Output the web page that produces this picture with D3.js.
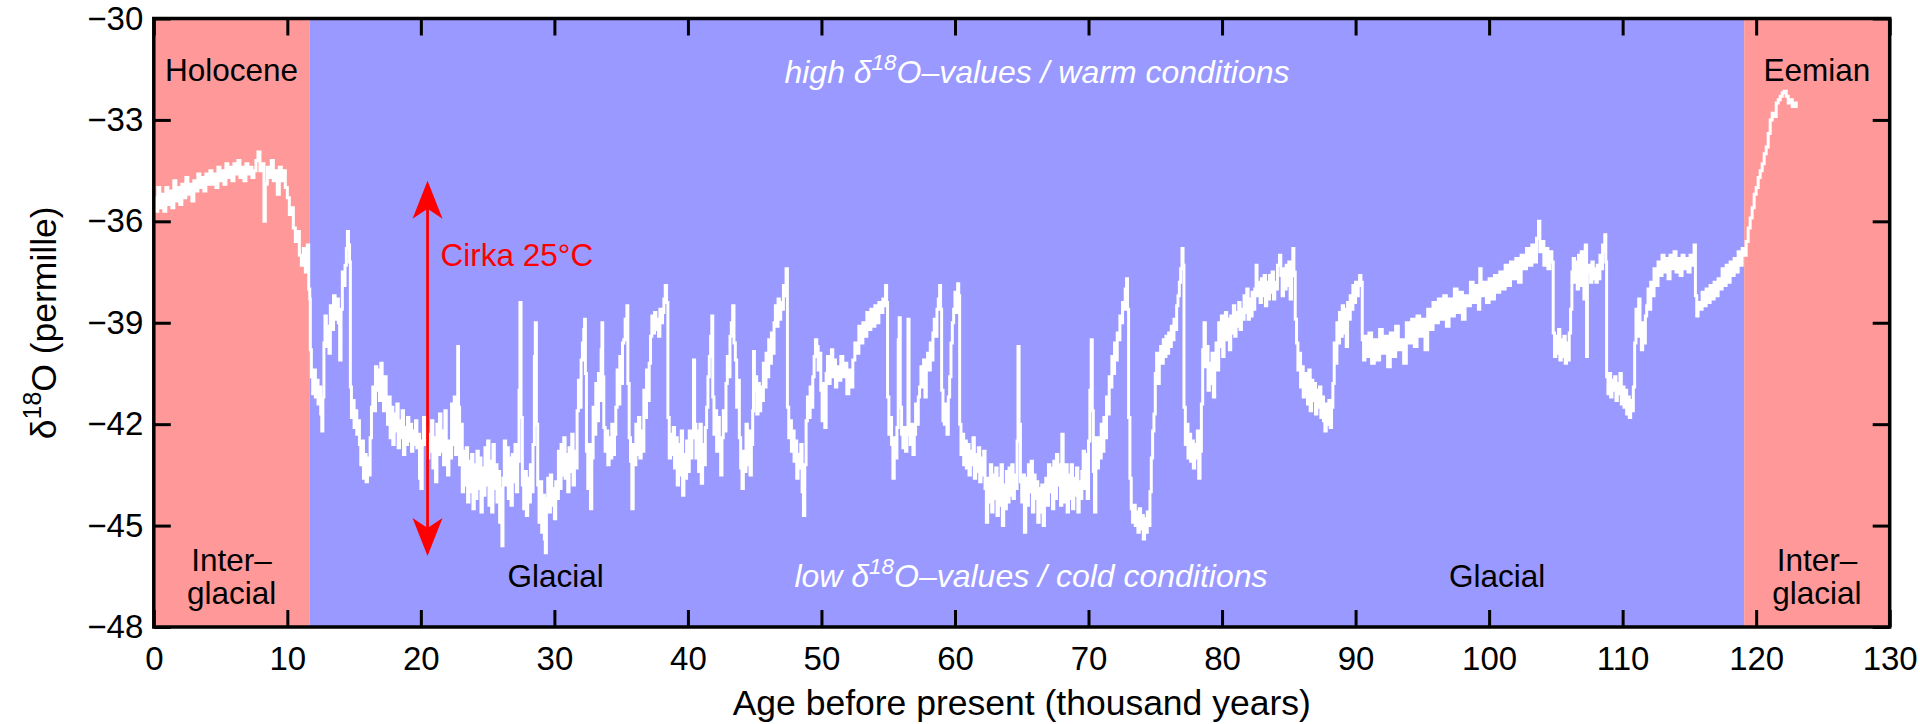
<!DOCTYPE html>
<html><head><meta charset="utf-8">
<script src="https://cdn.jsdelivr.net/npm/d3@7"></script>
<style>
html,body{margin:0;padding:0;background:#fff;}
svg{display:block;}
text{font-family:"Liberation Sans",Arial,Helvetica,sans-serif;}
</style></head><body>
<svg id="chart" width="1920" height="724"></svg>
<script>
// ---------- data ----------
const xTicks = [0,10,20,30,40,50,60,70,80,90,100,110,120,130];
const yTicks = [-30,-33,-36,-39,-42,-45,-48];
const periods = [["interglacial",0,11.65],["glacial",11.65,119.1],["interglacial",119.1,130]];
const periodLabelsTop = [["Holocene",5.825],["Eemian",124.55]];
const periodLabelsBottom = [["Inter–","glacial",5.825],["Inter–","glacial",124.55]];
const glacialLabels = [["Glacial",30.1],["Glacial",100.6]];
const arrowSpan = [20.5,-34.8,-45.9];
const arrowLabel = "Cirka 25°C";

const holocene = [[0.0,-35.3],[0.15,-35.7],[0.3,-35.0],[0.45,-35.6],[0.6,-35.2],[0.75,-35.7],[0.9,-35.0],[1.05,-35.5],[1.2,-35.1],[1.35,-35.6],[1.5,-34.8],[1.65,-35.4],[1.8,-35.0],[1.95,-35.5],[2.1,-34.9],[2.25,-35.3],[2.4,-34.7],[2.55,-35.2],[2.7,-34.9],[2.85,-35.4],[3.0,-34.8],[3.15,-35.1],[3.3,-34.6],[3.45,-35.0],[3.6,-34.7],[3.75,-35.1],[3.9,-34.6],[4.05,-34.9],[4.2,-34.5],[4.35,-34.9],[4.5,-34.6],[4.65,-35.0],[4.8,-34.4],[4.95,-34.8],[5.1,-34.5],[5.25,-34.9],[5.4,-34.3],[5.55,-34.7],[5.7,-34.4],[5.85,-34.8],[6.0,-34.3],[6.15,-34.6],[6.3,-34.2],[6.45,-34.7],[6.6,-34.4],[6.75,-34.8],[6.9,-34.3],[7.05,-34.6],[7.2,-34.4],[7.35,-34.7],[7.5,-34.5],[7.65,-34.2],[7.8,-33.95],[7.95,-34.5],[8.1,-34.3],[8.25,-36.0],[8.35,-34.9],[8.5,-34.4],[8.65,-34.7],[8.8,-34.2],[8.95,-34.8],[9.1,-34.5],[9.25,-35.2],[9.4,-34.4],[9.55,-34.8],[9.7,-34.5],[9.85,-35.0],[10.0,-35.3],[10.15,-35.8],[10.3,-35.6],[10.45,-36.2],[10.6,-36.6],[10.75,-36.3],[10.9,-37.0],[11.05,-37.3],[11.2,-36.8],[11.35,-37.5],[11.5,-36.7],[11.6,-38.0],[11.68,-38.3]];

const deglaciation = [[11.72,-39.8],[11.8,-40.6],[11.9,-41.1],[12.0,-40.4],[12.1,-41.2],[12.2,-40.7],[12.3,-41.4],[12.4,-40.9],[12.5,-41.7],[12.58,-42.2],[12.66,-41.2],[12.74,-39.6],[12.82,-38.8],[12.92,-39.7],[13.02,-39.1],[13.12,-39.9],[13.22,-38.5],[13.34,-39.2],[13.46,-38.2],[13.58,-38.9],[13.7,-38.3],[13.82,-39.0],[13.92,-40.1],[14.02,-38.6],[14.12,-37.5],[14.22,-37.9],[14.32,-37.3],[14.42,-36.8],[14.5,-36.3],[14.58,-36.7],[14.66,-37.2],
[14.72,-40.9],[14.8,-41.8],[14.9,-41.3],[15.0,-42.1],[15.1,-41.6],[15.2,-42.3],[15.3,-41.9],[15.4,-42.6],[15.5,-43.2],[15.6,-42.5],[15.7,-43.6],[15.8,-42.9],[15.9,-43.7],[16.0,-43.0],[16.1,-43.5],[16.2,-42.4],[16.3,-41.5],[16.4,-40.9],[16.5,-41.6],[16.6,-40.3],[16.7,-41.0],[16.8,-40.4],[16.9,-41.3],[17.0,-40.2],[17.1,-40.9],[17.2,-41.6],[17.3,-40.6],[17.4,-41.4],[17.5,-42.0],[17.6,-41.2],[17.7,-42.4],[17.8,-41.5],[17.9,-42.6],[18.0,-41.7],[18.1,-42.2],[18.2,-41.4],[18.3,-42.7],[18.4,-41.9],[18.5,-42.4],[18.6,-41.6],[18.7,-42.9],[18.8,-42.1],[18.9,-42.6],[19.0,-41.8],[19.1,-42.5],[19.2,-42.0],[19.3,-42.8],[19.4,-42.2],[19.5,-42.6],[19.6,-41.9],[19.7,-42.7],[19.8,-42.3],[19.9,-43.6],[20.0,-43.9],[20.1,-42.5],[20.2,-41.8],[20.3,-42.6],[20.4,-42.1],[20.5,-43.0],[20.6,-42.3]];

const mis2 = [[20.7,-42.8],[20.8,-41.9],[20.9,-43.3],[21.0,-42.4],[21.1,-43.7],[21.2,-42.0],[21.3,-42.9],[21.4,-41.7],[21.5,-42.8],[21.6,-42.2],[21.7,-43.2],[21.8,-41.6],[21.9,-42.9],[22.0,-43.5],[22.1,-42.5],[22.2,-43.0],[22.3,-41.4],[22.4,-42.6],[22.5,-41.2],[22.6,-42.9],[22.7,-41.8],[22.76,-39.7],[22.82,-41.5],[22.9,-43.2],[23.0,-42.0],[23.1,-44.0],[23.2,-42.8],[23.3,-43.8],[23.4,-42.7],[23.5,-44.3],[23.6,-43.1],[23.7,-44.0],[23.8,-42.9],[23.9,-44.5],[24.0,-43.2],[24.1,-44.2],[24.2,-42.8],[24.3,-43.9],[24.4,-43.0],[24.5,-44.6],[24.6,-43.3],[24.7,-44.1],[24.8,-42.7],[24.9,-43.8],[25.0,-42.5],[25.1,-44.4],[25.2,-43.1],[25.3,-44.6],[25.4,-42.6],[25.5,-43.9],[25.6,-43.2],[25.7,-44.3],[25.8,-43.4],[25.9,-44.9],[26.0,-43.9],[26.07,-45.6],[26.15,-43.6],[26.25,-42.5],[26.35,-43.8],[26.45,-42.7],[26.55,-44.2],[26.65,-43.0],[26.75,-44.4],[26.85,-42.9],[26.95,-43.7],[27.05,-42.6],[27.15,-44.0],[27.25,-43.1],[27.35,-41.0],[27.42,-38.4],[27.5,-41.8],
[27.6,-43.8],[27.7,-44.5],[27.8,-43.4],[27.9,-44.7],[28.0,-43.6],[28.1,-44.3],[28.2,-43.2],[28.3,-44.0],[28.4,-42.6],[28.5,-40.0],[28.57,-39.0],[28.65,-42.0],[28.75,-43.8],[28.85,-44.9],[28.95,-43.7],[29.05,-45.2],[29.15,-44.1],[29.25,-45.4],[29.32,-45.8],[29.4,-44.2],[29.5,-43.6],[29.6,-44.6],[29.7,-43.5],[29.8,-44.4],[29.9,-43.9],[30.0,-44.8],[30.1,-43.7],[30.2,-44.2],[30.3,-42.8],[30.4,-43.9],[30.5,-42.6],[30.6,-43.5],[30.7,-42.4],[30.8,-43.6],[30.9,-42.9],[31.0,-44.0],[31.1,-42.7],[31.2,-43.4],[31.3,-42.3],[31.4,-43.8],[31.5,-42.8],[31.6,-43.3],[31.7,-41.6],[31.8,-40.7],[31.9,-41.5],[32.0,-40.1],[32.1,-39.6],[32.2,-39.2],[32.26,-38.9],[32.32,-40.5],
[32.4,-42.8],[32.5,-43.9],[32.6,-42.6],[32.7,-44.5],[32.8,-43.0],[32.9,-41.5],[33.0,-42.3],[33.1,-40.8],[33.2,-41.9],[33.3,-40.5],[33.4,-41.3],[33.5,-39.8],[33.56,-39.0],[33.62,-40.6],[33.7,-42.1],[33.8,-42.8],[33.9,-42.2],[34.0,-43.2],[34.1,-42.4],[34.2,-43.0],[34.3,-42.0],[34.4,-42.9],[34.5,-42.3],[34.6,-41.5],[34.7,-40.4],[34.8,-41.4],[34.9,-40.0],[35.0,-40.8],[35.1,-39.6],[35.2,-39.5],[35.3,-38.9],[35.43,-38.5],[35.5,-40.8],[35.6,-42.4],[35.7,-43.1],[35.8,-44.5],[35.9,-42.6],
[36.0,-43.2],[36.1,-42.0],[36.2,-42.9],[36.3,-41.8],[36.4,-43.0],[36.5,-42.2],[36.6,-42.8],[36.7,-41.0],[36.8,-41.8],[36.9,-40.4],[37.0,-41.3],[37.1,-40.2],[37.2,-39.4],[37.3,-38.8],[37.4,-39.3],[37.5,-38.7],[37.6,-39.2],[37.7,-38.9],[37.8,-39.4],[37.9,-38.6],[38.0,-39.0],[38.1,-38.7],[38.2,-38.3],[38.3,-37.9],[38.4,-38.4],
[38.5,-41.8],[38.6,-43.0],[38.7,-42.3],[38.8,-42.9],[38.9,-42.1],[39.0,-43.3],[39.1,-42.4],[39.2,-43.8],[39.3,-42.6],[39.4,-43.5],[39.5,-42.2],[39.6,-44.1],[39.7,-42.9],[39.8,-43.6],[39.9,-42.5],[40.0,-43.4],[40.1,-42.2],[40.2,-43.0],[40.3,-42.4],[40.42,-40.1],[40.5,-42.0],[40.6,-43.0],[40.7,-42.2],[40.8,-43.4],[40.9,-42.0],[41.0,-43.75],[41.1,-42.6],[41.2,-43.2],[41.3,-42.1],[41.4,-41.5],[41.5,-40.6],[41.6,-40.0],[41.7,-39.4],[41.79,-38.8],[41.86,-41.2],[41.95,-42.3],[42.05,-41.6],[42.15,-42.8],[42.25,-41.8],[42.35,-42.4]];

const mis3 = [[42.45,-43.5],[42.55,-42.4],[42.65,-41.6],[42.75,-42.2],[42.85,-40.8],[42.95,-40.0],[43.05,-40.6],[43.15,-39.4],[43.25,-39.0],[43.35,-38.5],[43.45,-39.6],[43.55,-40.1],[43.65,-41.5],[43.75,-40.7],[43.85,-42.4],[43.95,-43.3],[44.05,-43.9],[44.15,-42.8],[44.25,-43.4],[44.35,-42.0],[44.45,-43.2],[44.55,-42.2],[44.65,-43.5],[44.75,-42.6],[44.85,-41.6],[44.91,-39.85],[44.98,-41.0],[45.05,-40.6],[45.15,-41.7],[45.25,-40.8],[45.35,-41.6],[45.45,-40.9],[45.55,-41.3],[45.65,-40.2],[45.75,-40.9],[45.85,-39.9],[45.95,-40.6],[46.05,-39.5],[46.15,-40.2],[46.25,-39.3],[46.35,-39.9],[46.45,-39.0],[46.55,-38.5],[46.65,-39.1],[46.75,-38.3],[46.85,-38.9],[46.95,-38.4],[47.05,-38.6],[47.15,-37.9],[47.25,-38.2],[47.35,-37.4],
[47.45,-41.5],[47.55,-42.4],[47.65,-41.9],[47.75,-42.8],[47.85,-42.2],[47.95,-43.1],[48.05,-42.5],[48.15,-43.6],[48.25,-42.9],[48.35,-43.3],[48.45,-42.6],[48.55,-44.0],[48.65,-44.7],[48.75,-43.2],[48.85,-41.9],[48.95,-41.2],[49.05,-41.8],[49.15,-40.9],[49.25,-41.5],[49.35,-40.6],[49.45,-40.0],[49.55,-39.5],[49.65,-39.7],[49.75,-40.4],[49.85,-39.9],[49.95,-41.0],[50.05,-41.9],[50.15,-40.8],[50.25,-42.1],[50.35,-40.5],[50.45,-40.0],[50.55,-40.8],[50.65,-40.2],[50.75,-39.8],[50.85,-40.6],[50.95,-40.1],[51.05,-40.9],[51.15,-40.3],[51.3,-40.7],[51.45,-40.0],[51.6,-40.6],[51.75,-40.2],[51.9,-41.1],[52.05,-40.4],[52.2,-40.9],[52.35,-40.1],[52.5,-39.6],[52.65,-39.9],[52.8,-39.1],[52.95,-39.6],[53.1,-39.0],[53.25,-39.4],[53.4,-38.7],[53.55,-39.2],[53.7,-38.6],[53.85,-39.1],[54.0,-38.5],[54.15,-39.0],[54.3,-38.4],[54.45,-38.7],[54.6,-38.3],[54.7,-38.5],[54.8,-37.9],[54.88,-38.4],
[54.95,-41.2],[55.05,-42.3],[55.15,-41.8],[55.25,-42.6],[55.35,-43.6],[55.45,-42.4],[55.55,-43.0],[55.65,-42.1],[55.75,-39.5],[55.82,-38.85],[55.9,-41.5],[56.0,-42.3],[56.1,-42.7],[56.2,-42.1],[56.3,-42.8],[56.4,-42.3],[56.48,-38.9],[56.56,-42.0],[56.65,-42.6],[56.75,-42.0],[56.85,-42.9],[56.95,-42.3],[57.05,-41.4],[57.15,-42.0],[57.25,-41.2],[57.35,-40.9],[57.45,-40.3],[57.55,-40.9],[57.65,-40.1],[57.75,-41.2],[57.85,-40.4],[57.95,-39.9],[58.05,-40.4],[58.15,-39.6],[58.25,-40.1],[58.35,-39.3],[58.45,-38.9],[58.55,-39.4],[58.65,-38.6],[58.75,-38.3],[58.85,-37.9],[58.92,-38.6],[59.0,-41.0],[59.1,-41.9],[59.2,-42.0],[59.3,-41.4],[59.4,-42.3],[59.5,-41.2],[59.6,-40.6],[59.7,-39.6],[59.8,-39.0],[59.9,-38.6],[60.0,-38.1],[60.1,-38.7],[60.2,-37.85],[60.28,-38.2],
[60.35,-42.0],[60.45,-42.9],[60.55,-42.3],[60.65,-43.2],[60.75,-42.5],[60.85,-43.3],[60.95,-42.6],[61.05,-43.5],[61.15,-42.8],[61.25,-43.2],[61.35,-42.4],[61.45,-43.6],[61.55,-42.9],[61.65,-43.4],[61.75,-42.7],[61.85,-43.7],[61.95,-43.0],[62.05,-43.5],[62.15,-42.8],[62.25,-43.9],[62.35,-44.9],[62.45,-43.6],[62.55,-44.3],[62.65,-43.2],[62.75,-44.6],[62.85,-43.5],[62.95,-44.2],[63.05,-43.3],[63.15,-44.7],[63.25,-43.6],[63.35,-44.4],[63.45,-43.2],[63.55,-45.0],[63.65,-43.8],[63.75,-44.5],[63.85,-43.4],[63.95,-44.3],[64.05,-43.3],[64.15,-44.1],[64.25,-43.2],[64.35,-44.2],[64.45,-43.5],[64.55,-43.9],[64.65,-42.5],[64.72,-39.7],[64.8,-42.0],[64.9,-43.7],[65.0,-44.3],[65.1,-43.5],[65.2,-45.2]];

const mis4 = [[65.3,-43.6],[65.4,-44.4],[65.5,-43.2],[65.6,-44.0],[65.7,-43.1],[65.8,-44.6],[65.9,-43.5],[66.0,-44.2],[66.1,-43.7],[66.2,-44.9],[66.3,-43.9],[66.4,-44.6],[66.5,-43.8],[66.6,-45.0],[66.7,-44.1],[66.8,-43.6],[66.9,-44.4],[67.0,-43.2],[67.1,-44.0],[67.2,-43.3],[67.3,-44.5],[67.4,-43.1],[67.5,-44.2],[67.6,-42.9],[67.7,-43.8],[67.8,-43.2],[67.9,-44.4],[68.0,-42.3],[68.1,-43.4],[68.2,-44.3],[68.3,-43.2],[68.4,-44.6],[68.5,-43.5],[68.6,-44.2],[68.7,-43.2],[68.8,-44.5],[68.9,-43.6],[69.0,-44.1],[69.1,-43.3],[69.2,-44.6],[69.3,-43.7],[69.4,-44.2],[69.5,-43.4],[69.6,-42.8],[69.7,-43.9],[69.8,-42.9],[69.9,-44.2],[70.0,-42.5],[70.1,-41.0],[70.2,-39.5],[70.28,-41.6],[70.36,-43.4],[70.45,-44.6],[70.55,-42.4],
[70.65,-43.3],[70.75,-42.4],[70.85,-43.0],[70.95,-42.0],[71.05,-42.8],[71.15,-41.8],[71.25,-42.4],[71.35,-41.2],[71.45,-41.7],[71.55,-40.6],[71.65,-40.9],[71.75,-40.0],[71.85,-40.5],[71.95,-39.6],[72.05,-40.1],[72.15,-39.3],[72.25,-39.5],[72.35,-38.8],[72.45,-39.0],[72.55,-38.4],[72.65,-38.6],[72.75,-38.0],[72.85,-37.7],[72.92,-38.6],
[73.0,-41.8],[73.1,-43.6],[73.2,-44.5],[73.3,-44.9],[73.4,-44.4],[73.5,-45.0],[73.6,-44.6],[73.7,-45.2],[73.8,-44.5],[73.9,-45.1],[74.0,-44.7],[74.1,-45.4],[74.2,-44.8],[74.3,-45.2],[74.4,-44.6],[74.5,-45.0],[74.6,-44.0],[74.7,-43.0],[74.8,-42.2],[74.9,-41.7],[75.0,-40.5],[75.1,-39.9],[75.2,-40.8],[75.3,-40.0],[75.4,-39.7],[75.5,-40.2],[75.6,-39.5],[75.7,-40.0],[75.8,-39.4],[75.9,-39.9],[76.0,-39.3],[76.1,-39.7],[76.2,-39.1],[76.3,-39.5],[76.4,-38.9],[76.5,-39.2],[76.6,-38.5],[76.7,-38.2],[76.8,-37.8],[76.9,-37.4],[77.0,-36.8],[77.08,-37.3]];

const mis5 = [[77.15,-41.5],[77.25,-42.6],[77.35,-42.0],[77.45,-43.0],[77.55,-42.3],[77.65,-43.1],[77.75,-42.5],[77.85,-43.3],[77.95,-42.6],[78.05,-43.0],[78.15,-42.2],[78.25,-43.6],[78.35,-42.8],[78.45,-41.4],[78.55,-39.8],[78.65,-39.0],[78.75,-40.3],[78.85,-39.7],[78.95,-41.0],[79.05,-40.2],[79.15,-40.8],[79.25,-39.9],[79.35,-41.2],[79.45,-40.1],[79.55,-39.6],[79.65,-40.4],[79.75,-39.0],[79.85,-39.7],[79.95,-38.8],[80.05,-40.0],[80.15,-39.2],[80.25,-38.7],[80.35,-39.5],[80.45,-38.9],[80.55,-39.8],[80.65,-38.8],[80.75,-39.3],[80.85,-38.5],[80.95,-39.4],[81.05,-38.7],[81.15,-39.1],[81.25,-38.4],[81.35,-39.2],[81.45,-38.6],[81.55,-38.9],[81.65,-38.2],[81.75,-38.7],[81.85,-38.0],[81.95,-38.9],[82.05,-38.3],[82.15,-38.8],[82.25,-38.1],[82.35,-38.6],[82.45,-38.0],[82.55,-37.3],[82.62,-38.2],[82.75,-37.8],[82.85,-38.4],[82.95,-37.7],[83.05,-38.2],[83.15,-37.6],[83.25,-38.5],[83.35,-37.8],[83.45,-38.3],[83.55,-37.6],[83.65,-38.1],[83.75,-37.5],[83.85,-38.3],[83.95,-37.8],[84.05,-38.0],[84.15,-37.3],[84.3,-37.0],[84.4,-37.6],[84.5,-38.2],[84.6,-37.4],[84.7,-38.0],[84.8,-37.3],[84.9,-37.9],[85.0,-37.2],[85.1,-38.3],[85.2,-37.6],[85.3,-36.8],[85.38,-37.5],[85.48,-38.9],[85.58,-39.6],[85.68,-40.4],[85.78,-39.9],[85.88,-40.9],[85.98,-40.3],[86.08,-41.2],[86.18,-40.5],[86.28,-41.0],
[86.4,-41.4],[86.5,-40.4],[86.6,-41.6],[86.7,-40.7],[86.8,-41.3],[86.9,-40.8],[87.0,-41.7],[87.1,-41.0],[87.2,-41.5],[87.3,-40.9],[87.4,-41.8],[87.5,-41.2],[87.6,-41.9],[87.7,-42.2],[87.8,-41.4],[87.9,-42.0],[88.0,-41.3],[88.1,-42.1],[88.2,-41.5],[88.3,-40.8],[88.4,-39.6],[88.5,-40.2],[88.6,-39.0],[88.7,-39.6],[88.8,-38.7],[88.9,-39.4],[89.0,-38.5],[89.1,-39.3],[89.2,-38.6],[89.3,-39.7],[89.4,-38.4],[89.5,-38.9],[89.6,-38.2],[89.7,-38.6],[89.8,-37.9],[89.9,-38.4],[90.0,-37.8],[90.1,-38.2],[90.2,-37.9],[90.3,-37.6],[90.4,-37.8],[90.5,-39.5],[90.6,-40.1],[90.7,-39.4],
[90.8,-40.0],[91.0,-39.3],[91.2,-40.2],[91.4,-39.5],[91.6,-40.1],[91.8,-39.2],[92.0,-39.9],[92.2,-39.4],[92.4,-40.3],[92.6,-39.3],[92.8,-40.0],[93.0,-39.1],[93.2,-39.8],[93.4,-39.5],[93.6,-40.2],[93.8,-39.0],[94.0,-39.6],[94.2,-38.9],[94.4,-39.7],[94.6,-38.8],[94.8,-39.4],[95.0,-38.9],[95.2,-39.8],[95.4,-38.6],[95.6,-39.2],[95.8,-38.4],[96.0,-39.0],[96.2,-38.3],[96.4,-38.9],[96.6,-38.2],[96.8,-39.1],[97.0,-38.3],[97.2,-38.8],[97.4,-38.0],[97.6,-38.7],[97.8,-38.1],[98.0,-38.9],[98.2,-38.2],[98.4,-38.5],[98.6,-37.8],[98.8,-38.4],[99.0,-37.9],[99.2,-38.6],[99.3,-37.4],[99.4,-38.2],[99.6,-37.8],[99.8,-38.4],[100.0,-37.7],[100.2,-38.3],[100.4,-37.6],[100.6,-38.1],[100.8,-37.5],[101.0,-38.0],[101.2,-37.3],[101.4,-37.9],[101.6,-37.2],[101.8,-37.7],[102.0,-37.1],[102.2,-37.8],[102.4,-37.0],[102.6,-37.4],[102.8,-36.8],[103.0,-37.3],[103.2,-36.7],[103.4,-37.2],[103.55,-36.5],[103.7,-36.0],[103.8,-36.9],[103.95,-36.6],[104.1,-37.3],[104.25,-36.8],[104.4,-37.4],[104.55,-36.9],[104.7,-37.2],
[104.8,-39.3],[104.9,-40.0],[105.0,-39.4],[105.1,-39.9],[105.2,-39.2],[105.3,-40.1],[105.4,-39.5],[105.5,-40.0],[105.6,-39.4],[105.7,-40.2],[105.8,-39.6],[105.9,-40.1],[106.0,-39.3],[106.1,-38.6],[106.2,-37.5],[106.3,-37.1],[106.4,-37.8],[106.5,-37.2],[106.6,-38.0],[106.7,-37.0],[106.8,-37.9],[106.9,-36.9],[107.0,-37.6],[107.1,-38.3],[107.2,-36.7],[107.3,-40.0],[107.36,-37.5],[107.5,-37.3],[107.6,-37.8],[107.7,-37.2],[107.8,-37.7],[107.9,-37.4],[108.0,-37.8],[108.1,-37.3],[108.2,-37.7],[108.3,-37.0],[108.4,-37.4],[108.5,-36.7],[108.6,-36.9],[108.66,-36.4],[108.74,-37.2],
[108.8,-40.6],[108.9,-41.1],[109.0,-40.5],[109.1,-41.2],[109.2,-40.7],[109.3,-41.0],[109.4,-40.6],[109.5,-41.3],[109.6,-40.8],[109.7,-41.1],[109.8,-40.5],[109.9,-41.4],[110.0,-40.9],[110.1,-41.5],[110.2,-41.0],[110.3,-41.7],[110.4,-41.2],[110.5,-41.8],[110.6,-41.3],[110.7,-41.6],[110.8,-40.9],[110.9,-39.6],
[111.0,-38.6],[111.1,-39.4],[111.2,-38.3],[111.3,-39.2],[111.4,-39.8],[111.5,-39.0],[111.6,-39.6],[111.7,-38.8],[111.8,-38.5],[111.9,-38.0],[112.0,-38.6],[112.1,-37.8],[112.2,-38.2],[112.35,-37.4],[112.5,-37.9],[112.65,-37.2],[112.8,-37.6],[112.95,-37.0],[113.1,-37.5],[113.25,-37.1],[113.4,-37.7],[113.55,-37.0],[113.7,-37.4],[113.85,-36.9],[114.0,-37.5],[114.15,-37.1],[114.3,-37.6],[114.45,-37.0],[114.6,-37.4],[114.75,-37.1],[114.9,-37.5],[115.05,-37.0],[115.2,-37.3],[115.35,-36.7],[115.45,-38.2],[115.55,-38.8],[115.65,-38.4],[115.8,-38.6],[115.95,-38.1],[116.1,-38.5],[116.25,-38.0],[116.4,-38.4],[116.55,-37.9],[116.7,-38.3],[116.85,-37.8],[117.0,-38.2],[117.15,-37.7],[117.3,-38.0],[117.45,-37.4],[117.6,-37.9],[117.75,-37.3],[117.9,-37.8],[118.05,-37.2],[118.2,-37.6],[118.35,-37.1],[118.5,-37.5],[118.65,-36.9],[118.8,-37.3],[118.95,-36.8],[119.1,-37.0],[119.25,-36.6],
[119.4,-36.2],[119.55,-35.9],[119.7,-35.6],[119.85,-35.2],[120.0,-35.0],[120.15,-34.7],[120.3,-34.5],[120.45,-34.3],[120.6,-34.0],[120.75,-33.8],[120.9,-33.4],[121.05,-33.0],[121.2,-32.8],[121.35,-32.9],[121.5,-32.5],[121.65,-32.4],[121.8,-32.3],[121.95,-32.2],[122.1,-32.15],[122.25,-32.3],[122.4,-32.5],[122.55,-32.4],[122.7,-32.6],[122.85,-32.5],[123.0,-32.65]];

// ---------- chart ----------
const W = 1920, H = 724;
const plot = {left:153.8, right:1889.7, top:18.5, bottom:627};
const FONT_TICK = 33, FONT_TITLE = 35.5, FONT_TEXT = 31.5;
const bandColor = {interglacial:"#FF9999", glacial:"#9999FF"};

const svg = d3.select("#chart");
const x = d3.scaleLinear().domain([0,130]).range([plot.left, plot.right]);
const y = d3.scaleLinear().domain([-30,-48]).range([plot.top, plot.bottom]);

// bands
svg.append("g").selectAll("rect").data(periods).join("rect")
  .attr("x", d => x(d[1])).attr("y", plot.top)
  .attr("width", d => x(d[2]) - x(d[1])).attr("height", plot.bottom - plot.top)
  .attr("fill", d => bandColor[d[0]]);

// curve
const series = [].concat(holocene, deglaciation, mis2, mis3, mis4, mis5).sort((a,b)=>a[0]-b[0]);
const line = d3.line().x(d => x(d[0])).y(d => y(d[1])).curve(d3.curveStepAfter);
svg.append("path").datum(series)
  .attr("d", line).attr("fill","none").attr("stroke","#fff")
  .attr("stroke-width",3).attr("stroke-linejoin","miter");

// text annotations
function txt(xp, yp, s, opts={}) {
  return svg.append("text").attr("x", xp).attr("y", yp)
    .attr("font-size", opts.size || FONT_TEXT)
    .attr("fill", opts.fill || "#000")
    .attr("text-anchor", opts.anchor || "middle")
    .attr("font-style", opts.italic ? "italic" : "normal")
    .text(s);
}
periodLabelsTop.forEach(d => txt(x(d[1]), 81, d[0]));
periodLabelsBottom.forEach(d => { txt(x(d[2]), 570.5, d[0]); txt(x(d[2]), 604, d[1]); });
glacialLabels.forEach(d => txt(x(d[1]), 587, d[0]));

function deltaText(cx, by, pre, post, opts) {
  const t = svg.append("text").attr("x", cx).attr("y", by)
    .attr("font-size", opts.size).attr("fill", opts.fill)
    .attr("text-anchor","middle").attr("font-style", opts.italic ? "italic":"normal");
  t.append("tspan").text(pre + "δ");
  t.append("tspan").attr("font-size", opts.size*0.7).attr("dy", -opts.size*0.42).text("18");
  t.append("tspan").attr("dy", opts.size*0.42).text(post);
  return t;
}
deltaText(1037, 83, "high ", "O–values / warm conditions", {size:32, fill:"#fff", italic:true});
deltaText(1031, 587, "low ", "O–values / cold conditions", {size:32, fill:"#fff", italic:true});

// arrow
const ax = x(arrowSpan[0]), ay1 = y(arrowSpan[1]), ay2 = y(arrowSpan[2]);
const HL = 38, HW = 15, NOTCH = 10;
svg.append("line").attr("x1",ax).attr("x2",ax).attr("y1",ay1+HL-NOTCH-2).attr("y2",ay2-HL+NOTCH+2)
  .attr("stroke","#FF0000").attr("stroke-width",2.8);
svg.append("path").attr("d",
  `M${ax},${ay1} L${ax-HW},${ay1+HL} L${ax},${ay1+HL-NOTCH} L${ax+HW},${ay1+HL} Z`).attr("fill","#FF0000");
svg.append("path").attr("d",
  `M${ax},${ay2} L${ax-HW},${ay2-HL} L${ax},${ay2-HL+NOTCH} L${ax+HW},${ay2-HL} Z`).attr("fill","#FF0000");
txt(ax + 13, 266, arrowLabel, {anchor:"start", fill:"#FF0000"});

// axes
const gB = svg.append("g").attr("transform",`translate(0,${plot.bottom})`)
  .call(d3.axisBottom(x).tickValues(xTicks).tickSize(-17).tickPadding(19.5).tickFormat(d3.format("d")));
const gT = svg.append("g").attr("transform",`translate(0,${plot.top})`)
  .call(d3.axisTop(x).tickValues(xTicks).tickSize(-17).tickFormat(""));
const gL = svg.append("g").attr("transform",`translate(${plot.left},0)`)
  .call(d3.axisLeft(y).tickValues(yTicks).tickSize(-17).tickPadding(10.5).tickFormat(d3.format("d")));
const gR = svg.append("g").attr("transform",`translate(${plot.right},0)`)
  .call(d3.axisRight(y).tickValues(yTicks).tickSize(-17).tickFormat(""));
[gB,gT,gL,gR].forEach(g => {
  g.select(".domain").remove();
  g.selectAll(".tick line").attr("stroke","#000").attr("stroke-width",3);
  g.selectAll(".tick text").attr("fill","#000").attr("font-size",FONT_TICK)
    .attr("font-family",'"Liberation Sans",Arial,Helvetica,sans-serif');
});

// frame
svg.append("rect").attr("x",plot.left).attr("y",plot.top)
  .attr("width",plot.right-plot.left).attr("height",plot.bottom-plot.top)
  .attr("fill","none").attr("stroke","#000").attr("stroke-width",3.5);

// axis titles
txt((plot.left+plot.right)/2, 715, "Age before present (thousand years)", {size:FONT_TITLE});
const yt = svg.append("text").attr("transform",`translate(56,${(plot.top+plot.bottom)/2}) rotate(-90)`)
  .attr("text-anchor","middle").attr("font-size",FONT_TITLE).attr("fill","#000");
yt.append("tspan").text("δ");
yt.append("tspan").attr("font-size",FONT_TITLE*0.7).attr("dy",-FONT_TITLE*0.42).text("18");
yt.append("tspan").attr("dy",FONT_TITLE*0.42).text("O (permille)");
</script>
</body></html>
